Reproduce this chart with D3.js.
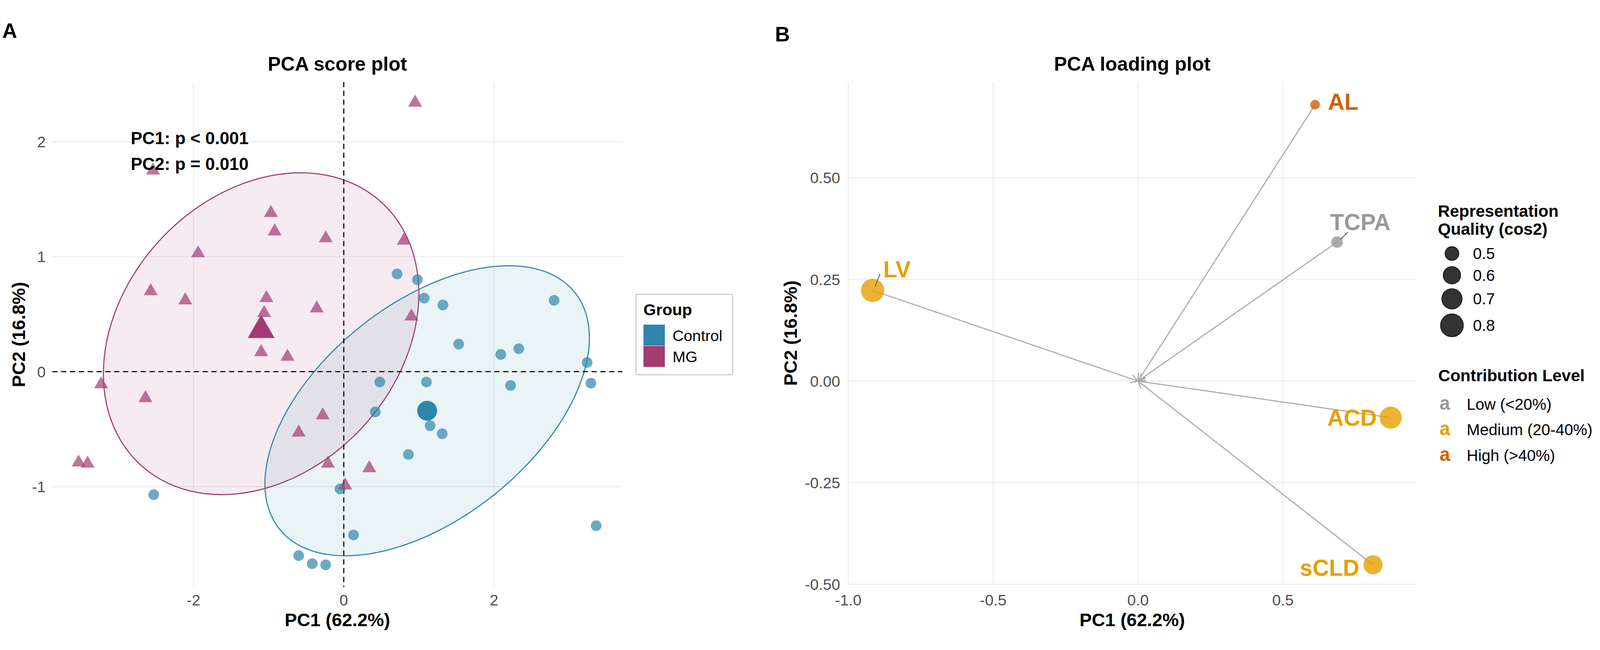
<!DOCTYPE html>
<html><head><meta charset="utf-8">
<script src="https://cdn.jsdelivr.net/npm/d3@7"></script>
<style>html,body{margin:0;padding:0;overflow:hidden;background:#fff}svg{display:block;width:100vw;height:100vh}text{font-family:"Liberation Sans",Arial,sans-serif}</style>
</head><body><svg id="c" viewBox="0 0 4344 1664" preserveAspectRatio="xMidYMid meet"></svg>
<script>
// ---------- data: score plot ----------
const controlPC1 = [0.71,0.98,1.07,1.32,2.80,1.53,2.09,2.33,3.24,0.48,1.10,2.22,3.29,0.42,1.15,1.31,0.86,3.36,-2.53,-0.05,0.13,-0.60,-0.42,-0.24];
const controlPC2 = [0.85,0.80,0.64,0.58,0.62,0.24,0.15,0.20,0.08,-0.09,-0.09,-0.12,-0.10,-0.35,-0.47,-0.54,-0.72,-1.34,-1.07,-1.02,-1.42,-1.60,-1.67,-1.68];
const mgPC1 = [-2.54,-0.97,-0.92,-0.24,-1.94,-2.57,-2.11,-1.03,-1.06,-0.36,-1.10,-0.75,0.95,0.80,0.90,-3.23,-2.64,-0.28,-0.60,-3.53,-3.41,-0.21,0.02,0.34];
const mgPC2 = [1.75,1.38,1.22,1.16,1.03,0.70,0.62,0.64,0.51,0.55,0.17,0.13,2.34,1.14,0.48,-0.11,-0.23,-0.38,-0.53,-0.79,-0.80,-0.80,-0.99,-0.84];
const centroidPC1 = [1.11,-1.10];
const centroidPC2 = [-0.34,0.36];
const groups = ["Control","MG"];
// 95% ellipse parameters (data units): x = cx + a*cos t, y = cy + b*cos t + c*sin t
const ellGroup = ["MG","Control"];
const ellCX = [-1.10, 1.11];
const ellCY = [0.33, -0.34];
const ellA = [2.10, 2.16];
const ellB = [0.35, 0.635];
const ellC = [1.355, 1.09];
const scoreXTicks = [-2,0,2];
const scoreYTicks = [-1,0,1,2];
const pLabels = ["PC1: p < 0.001","PC2: p = 0.010"];
// ---------- data: loading plot ----------
const variables = ["LV","AL","TCPA","ACD","sCLD"];
const loadPC1 = [-0.916,0.611,0.687,0.872,0.811];
const loadPC2 = [0.223,0.680,0.342,-0.090,-0.452];
const cos2 = [0.82,0.41,0.45,0.77,0.66];
const contribution = ["Medium","High","Low","Medium","Medium"];
const loadXTicks = [-1.0,-0.5,0.0,0.5];
const loadYTicks = [-0.50,-0.25,0.00,0.25,0.50];
const sizeBreaks = [0.5,0.6,0.7,0.8];
const contribLevels = ["Low","Medium","High"];
const contribLabels = ["Low (<20%)","Medium (20-40%)","High (>40%)"];

const col = {Control:"#2E86AB", MG:"#A23B72"};
const ccol = {Low:"#999999", Medium:"#E69F00", High:"#D55E00"};
const svg = d3.select("#c");
svg.append("rect").attr("width",4344).attr("height",1664).attr("fill","#fff");
const grid="#e6e6e6", tickCol="#4d4d4d";
const hy = s => s.replace(/\u2212/g,"-");

// ================= Panel A =================
const xA = d3.scaleLinear().domain([-3.88,3.71]).range([142,1690]);
const yA = d3.scaleLinear().domain([-1.875,2.52]).range([1544,172]);
const gA = svg.append("g");
gA.selectAll(".gx").data(scoreXTicks).join("line").attr("x1",d=>xA(d)).attr("x2",d=>xA(d)).attr("y1",172).attr("y2",1544).attr("stroke",grid).attr("stroke-width",2);
gA.selectAll(".gy").data(scoreYTicks).join("line").attr("y1",d=>yA(d)).attr("y2",d=>yA(d)).attr("x1",142).attr("x2",1690).attr("stroke",grid).attr("stroke-width",2);
gA.selectAll(".tx").data(scoreXTicks).join("text").attr("x",d=>xA(d)).attr("y",1594).attr("text-anchor","middle").attr("font-size",42).attr("fill",tickCol).text(d=>d);
gA.selectAll(".ty").data(scoreYTicks).join("text").attr("x",124).attr("y",d=>yA(d)+15).attr("text-anchor","end").attr("font-size",42).attr("fill",tickCol).text(d=>d);

const ellData = ellGroup.map((g,i)=>{
  const pts=[];
  for(let k=0;k<=120;k++){const t=2*Math.PI*k/120;
    pts.push([xA(ellCX[i]+ellA[i]*Math.cos(t)), yA(ellCY[i]+ellB[i]*Math.cos(t)+ellC[i]*Math.sin(t))]);}
  return {g,p:pts};
});
gA.selectAll(".ell").data(ellData).join("path").attr("d",d=>d3.line()(d.p)+"Z")
  .attr("fill",d=>col[d.g]).attr("fill-opacity",0.1).attr("stroke",d=>col[d.g]).attr("stroke-width",3);

gA.append("line").attr("x1",xA(0)).attr("x2",xA(0)).attr("y1",172).attr("y2",1544).attr("stroke","#000").attr("stroke-width",3).attr("stroke-dasharray","14,10");
gA.append("line").attr("y1",yA(0)).attr("y2",yA(0)).attr("x1",142).attr("x2",1690).attr("stroke","#000").attr("stroke-width",3).attr("stroke-dasharray","14,10");

const tri=d3.symbol().type(d3.symbolTriangle);
gA.selectAll(".cp").data(controlPC1.map((v,i)=>[v,controlPC2[i]])).join("circle")
  .attr("cx",d=>xA(d[0])).attr("cy",d=>yA(d[1])).attr("r",14.5).attr("fill",col.Control).attr("fill-opacity",0.7);
gA.selectAll(".mp").data(mgPC1.map((v,i)=>[v,mgPC2[i]])).join("path")
  .attr("d",tri.size(620)()).attr("transform",d=>`translate(${xA(d[0])},${yA(d[1])})`).attr("fill",col.MG).attr("fill-opacity",0.7);
gA.append("circle").attr("cx",xA(centroidPC1[0])).attr("cy",yA(centroidPC2[0])).attr("r",27).attr("fill",col.Control);
gA.append("path").attr("d",tri.size(2300)()).attr("transform",`translate(${xA(centroidPC1[1])},${yA(centroidPC2[1])})`).attr("fill",col.MG);

gA.selectAll(".pl").data(pLabels).join("text").attr("x",355).attr("y",(d,i)=>341+i*70).attr("font-size",47).attr("font-weight","bold").text(d=>d);
gA.append("text").attr("x",916).attr("y",142).attr("text-anchor","middle").attr("font-size",53).attr("font-weight","bold").text("PCA score plot");
gA.append("text").attr("x",916).attr("y",1650).attr("text-anchor","middle").attr("font-size",50).attr("font-weight","bold").text("PC1 (62.2%)");
gA.append("text").attr("transform","translate(68,858) rotate(-90)").attr("text-anchor","middle").attr("font-size",50).attr("font-weight","bold").text("PC2 (16.8%)");
gA.append("text").attr("x",6).attr("y",52).attr("font-size",56).attr("font-weight","bold").text("A");
const lgA=gA.append("g");
lgA.append("rect").attr("x",1727).attr("y",749).attr("width",262).attr("height",218).attr("fill","#fff").attr("stroke","#cccccc").attr("stroke-width",3);
lgA.append("text").attr("x",1747).attr("y",805).attr("font-size",44).attr("font-weight","bold").text("Group");
lgA.selectAll(".k").data(groups).join("rect").attr("x",1747).attr("y",(d,i)=>831+i*58).attr("width",58).attr("height",57).attr("fill",d=>col[d]);
lgA.selectAll(".kt").data(groups).join("text").attr("x",1826).attr("y",(d,i)=>875+i*58).attr("font-size",42).text(d=>d);

// ================= Panel B =================
const xB = d3.scaleLinear().domain([-1.0,0.96]).range([2303,3845]);
const yB = d3.scaleLinear().domain([-0.5,0.736]).range([1536,172]);
const gB = svg.append("g");
gB.selectAll(".gx").data(loadXTicks).join("line").attr("x1",d=>xB(d)).attr("x2",d=>xB(d)).attr("y1",172).attr("y2",1536).attr("stroke",grid).attr("stroke-width",2);
gB.selectAll(".gy").data(loadYTicks).join("line").attr("y1",d=>yB(d)).attr("y2",d=>yB(d)).attr("x1",2303).attr("x2",3845).attr("stroke",grid).attr("stroke-width",2);
gB.selectAll(".tx").data(loadXTicks).join("text").attr("x",d=>xB(d)).attr("y",1594).attr("text-anchor","middle").attr("font-size",42).attr("fill",tickCol).text(d=>hy(d3.format(".1f")(d)));
gB.selectAll(".ty").data(loadYTicks).join("text").attr("x",2281).attr("y",d=>yB(d)+15).attr("text-anchor","end").attr("font-size",42).attr("fill",tickCol).text(d=>hy(d3.format(".2f")(d)));

const ld = variables.map((v,i)=>({v,x:loadPC1[i],y:loadPC2[i],c:cos2[i],k:contribution[i]}));
const rS = v=>Math.sqrt(Math.max(60,350+(v-0.5)*2030));
gB.selectAll(".ln").data(ld).join("line").attr("x1",xB(0)).attr("y1",yB(0)).attr("x2",d=>xB(d.x)).attr("y2",d=>yB(d.y)).attr("stroke","#aaaaaa").attr("stroke-width",3);
gB.selectAll(".ah").data(ld).join("path").attr("d",d=>{
  const ang=Math.atan2(yB(d.y)-yB(0),xB(d.x)-xB(0)), L=22, s=Math.PI/6, x0=xB(0), y0=yB(0);
  return `M${x0+L*Math.cos(ang+s)},${y0+L*Math.sin(ang+s)}L${x0},${y0}L${x0+L*Math.cos(ang-s)},${y0+L*Math.sin(ang-s)}`;
}).attr("fill","none").attr("stroke","#aaaaaa").attr("stroke-width",3);
gB.selectAll(".pt").data(ld).join("circle").attr("cx",d=>xB(d.x)).attr("cy",d=>yB(d.y)).attr("r",d=>rS(d.c)).attr("fill",d=>ccol[d.k]).attr("fill-opacity",0.8);
const labDX=[29,35,-19,-38,-37], labDY=[-36,14,-33,22,30], anchors=["start","start","start","end","end"];
gB.selectAll(".lb").data(ld).join("text").attr("x",(d,i)=>xB(d.x)+labDX[i]).attr("y",(d,i)=>yB(d.y)+labDY[i]).attr("text-anchor",(d,i)=>anchors[i])
  .attr("font-size",62).attr("font-weight","bold").attr("fill",d=>ccol[d.k]).text(d=>d.v);
const segs=[[0,7,-11,20,-44],[2,9,-7,29,-27]];
gB.selectAll(".sg").data(segs).join("line").attr("x1",s=>xB(ld[s[0]].x)+s[1]).attr("y1",s=>yB(ld[s[0]].y)+s[2]).attr("x2",s=>xB(ld[s[0]].x)+s[3]).attr("y2",s=>yB(ld[s[0]].y)+s[4]).attr("stroke","#666").attr("stroke-width",2.5);

gB.append("text").attr("x",3074).attr("y",142).attr("text-anchor","middle").attr("font-size",53).attr("font-weight","bold").text("PCA loading plot");
gB.append("text").attr("x",3074).attr("y",1650).attr("text-anchor","middle").attr("font-size",50).attr("font-weight","bold").text("PC1 (62.2%)");
gB.append("text").attr("transform","translate(2164,854) rotate(-90)").attr("text-anchor","middle").attr("font-size",50).attr("font-weight","bold").text("PC2 (16.8%)");
gB.append("text").attr("x",2104).attr("y",62).attr("font-size",56).attr("font-weight","bold").text("B");
const lgB=gB.append("g");
lgB.append("text").attr("x",3904).attr("y",538).attr("font-size",45).attr("font-weight","bold").text("Representation");
lgB.append("text").attr("x",3904).attr("y",587).attr("font-size",45).attr("font-weight","bold").text("Quality (cos2)");
const sbY=[638,697,761,833];
lgB.selectAll(".sc").data(sizeBreaks).join("circle").attr("cx",3942).attr("cy",(d,i)=>sbY[i]).attr("r",d=>rS(d)).attr("fill","#333").attr("stroke","#111").attr("stroke-width",2);
lgB.selectAll(".st").data(sizeBreaks).join("text").attr("x",3999).attr("y",(d,i)=>sbY[i]+15).attr("font-size",43).text(d=>d.toFixed(1));
lgB.append("text").attr("x",3905).attr("y",985).attr("font-size",45).attr("font-weight","bold").text("Contribution Level");
const cbY=[1062,1131,1201];
lgB.selectAll(".ca").data(contribLevels).join("text").attr("x",3908).attr("y",(d,i)=>cbY[i]).attr("font-size",52).attr("font-weight","bold").attr("fill",d=>ccol[d]).text("a");
lgB.selectAll(".ct").data(contribLabels).join("text").attr("x",3982).attr("y",(d,i)=>cbY[i]).attr("font-size",43).text(d=>d);
</script></body></html>
